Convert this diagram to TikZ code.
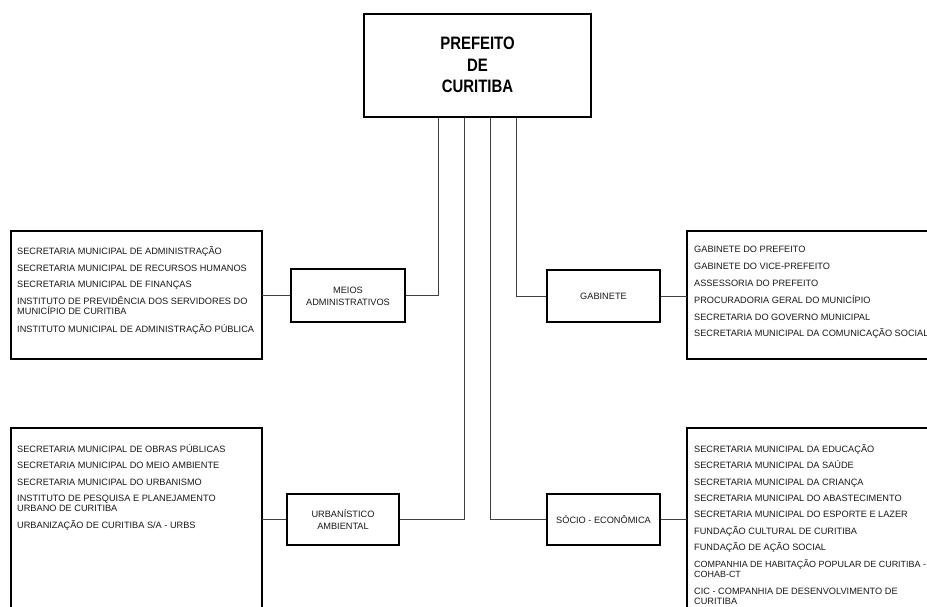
\documentclass[tikz,border=0pt]{standalone}
\usepackage{fontspec}
\setmainfont{Liberation Sans}
\newfontfamily\titlefont[FakeStretch=0.83]{Liberation Sans}
\begin{document}
\begin{tikzpicture}[x=1pt,y=-1pt,
  box/.style={draw=black,line width=1.1pt,fill=white,inner sep=0pt},
  conn/.style={draw=black!75,line width=0.9pt},
  item/.style={anchor=base west,inner sep=0pt,align=left,text=black!90,font=\fontsize{9.2}{10}\selectfont},
  lbl/.style={align=center,inner sep=0pt,text=black!90,font=\fontsize{9.2}{12}\selectfont}]
\useasboundingbox (0,0) rectangle (927,607);
% top box
\node[box,minimum width=227pt,minimum height=103pt] (pref) at (477.5,65.5) {};
\node[align=center,inner sep=0pt,font=\titlefont\bfseries\fontsize{18}{21.5}\selectfont] (preft) at (477.5,65) {PREFEITO\\DE\\CURITIBA};
% group boxes
\node[box,minimum width=114pt,minimum height=53pt] (meios) at (348,295.5) {};
\node[lbl] (meiost) at (348,296) {MEIOS\\ADMINISTRATIVOS};
\node[box,minimum width=113pt,minimum height=52pt] (gab) at (603.5,296) {};
\node[lbl] (gabt) at (603.5,296) {GABINETE};
\node[box,minimum width=112pt,minimum height=51pt] (urb) at (343,519.5) {};
\node[lbl] (urbt) at (343,519.5) {URBANÍSTICO\\AMBIENTAL};
\node[box,minimum width=113pt,minimum height=51pt] (socio) at (603.5,519.5) {};
\node[lbl] (sociot) at (603.5,519.5) {SÓCIO - ECONÔMICA};
% list boxes
\draw[box] (11,231) rectangle (262,359);
\coordinate (L1e) at (262,295);
\draw[box] (687,231) rectangle (980,359);
\coordinate (R1w) at (687,295);
\draw[box] (11,428) rectangle (262,650);
\coordinate (L2e) at (262,520);
\draw[box] (687,428) rectangle (980,650);
\coordinate (R2w) at (687,520);
% connectors
\draw[conn] ([xshift=-39pt]pref.south) |- (meios.east);
\draw[conn] ([xshift=39pt]pref.south) |- (gab.west);
\draw[conn] ([xshift=-13pt]pref.south) |- (urb.east);
\draw[conn] ([xshift=13pt]pref.south) |- (socio.west);
\draw[conn] (meios.west) -- (meios.west -| L1e);
\draw[conn] (gab.east) -- (gab.east -| R1w);
\draw[conn] (urb.west) -- (urb.west -| L2e);
\draw[conn] (socio.east) -- (socio.east -| R2w);
% left list 1
\node[item] (a1) at (17,254.8) {SECRETARIA MUNICIPAL DE ADMINISTRAÇÃO};
\node[item] (a2) at (17,271) {SECRETARIA MUNICIPAL DE RECURSOS HUMANOS};
\node[item] (a3) at (17,287.4) {SECRETARIA MUNICIPAL DE FINANÇAS};
\node[item] (a4) at (17,314.6) {INSTITUTO DE PREVIDÊNCIA DOS SERVIDORES DO\\MUNICÍPIO DE CURITIBA};
\node[item] (a5) at (17,332) {INSTITUTO MUNICIPAL DE ADMINISTRAÇÃO PÚBLICA};
% right list 1
\node[item] (b1) at (694,252.7) {GABINETE DO PREFEITO};
\node[item] (b2) at (694,269.7) {GABINETE DO VICE-PREFEITO};
\node[item] (b3) at (694,286.7) {ASSESSORIA DO PREFEITO};
\node[item] (b4) at (694,303.2) {PROCURADORIA GERAL DO MUNICÍPIO};
\node[item] (b5) at (694,320.2) {SECRETARIA DO GOVERNO MUNICIPAL};
\node[item] (b6) at (694,336.7) {SECRETARIA MUNICIPAL DA COMUNICAÇÃO SOCIAL};
% left list 2
\node[item] (c1) at (17,452.7) {SECRETARIA MUNICIPAL DE OBRAS PÚBLICAS};
\node[item] (c2) at (17,468.7) {SECRETARIA MUNICIPAL DO MEIO AMBIENTE};
\node[item] (c3) at (17,485) {SECRETARIA MUNICIPAL DO URBANISMO};
\node[item] (c4) at (17,511.5) {INSTITUTO DE PESQUISA E PLANEJAMENTO\\URBANO DE CURITIBA};
\node[item] (c5) at (17,528) {URBANIZAÇÃO DE CURITIBA S/A - URBS};
% right list 2
\node[item] (d1) at (694,452.7) {SECRETARIA MUNICIPAL DA EDUCAÇÃO};
\node[item] (d2) at (694,468.9) {SECRETARIA MUNICIPAL DA SAÚDE};
\node[item] (d3) at (694,485.2) {SECRETARIA MUNICIPAL DA CRIANÇA};
\node[item] (d4) at (694,501.4) {SECRETARIA MUNICIPAL DO ABASTECIMENTO};
\node[item] (d5) at (694,517.7) {SECRETARIA MUNICIPAL DO ESPORTE E LAZER};
\node[item] (d6) at (694,534) {FUNDAÇÃO CULTURAL DE CURITIBA};
\node[item] (d7) at (694,550.2) {FUNDAÇÃO DE AÇÃO SOCIAL};
\node[item,font=\fontsize{8.95}{10}\selectfont] (d8) at (694,577) {COMPANHIA DE HABITAÇÃO POPULAR DE CURITIBA -\\COHAB-CT};
\node[item] (d9) at (694,604) {CIC - COMPANHIA DE DESENVOLVIMENTO DE\\CURITIBA};
\end{tikzpicture}
\end{document}
